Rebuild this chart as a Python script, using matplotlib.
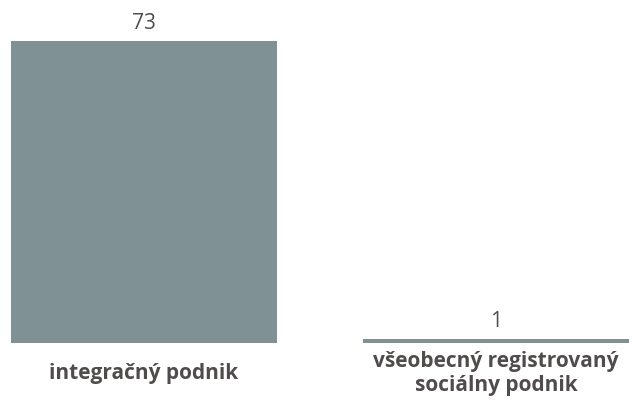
import matplotlib.pyplot as plt

categories = ['integračný podnik', 'všeobecný registrovaný\nsociálny podnik']
values = [73, 1]

plt.rcParams['font.family'] = ['Open Sans', 'DejaVu Sans']

fig = plt.figure(figsize=(6.29, 4.12), dpi=100)
ax = fig.add_axes([11 / 629, 69 / 412, 618 / 629, 302 / 412])

x = range(len(values))
bars = ax.bar(x, values, width=0.756, color='#7f9192')

for b, v in zip(bars, values):
    ax.annotate(str(v), (b.get_x() + b.get_width() / 2, v), xytext=(0, 5),
                textcoords='offset points', ha='center', va='bottom',
                fontsize=15, color='#4f4f4f', annotation_clip=False)

for i, c in enumerate(categories):
    ax.annotate(c, (i, 0), xytext=(0, -22), textcoords='offset points',
                ha='center', va='center', fontsize=15, fontweight='bold',
                color='#504c4c', annotation_clip=False, linespacing=1.15)

ax.set_xlim(-0.378, 1.378)
ax.set_ylim(0, 73)
ax.axis('off')

fig.savefig('out.png', dpi=100)
